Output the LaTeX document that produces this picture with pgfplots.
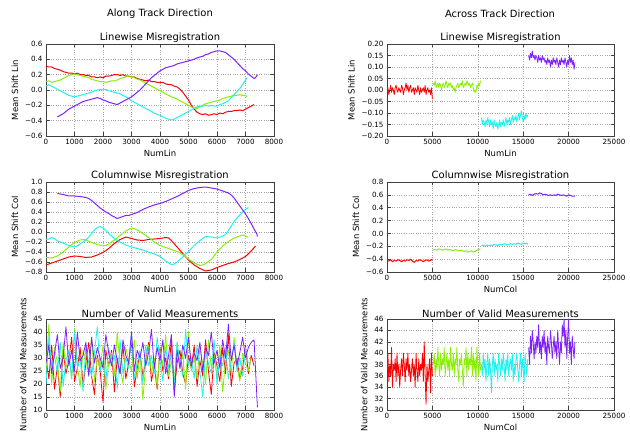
\documentclass[border=0pt]{standalone}
\usepackage{fontspec}
\setmainfont{DejaVu Sans}
\usepackage{pgfplots}
\pgfplotsset{compat=1.18}
\definecolor{cR}{HTML}{FF0000}
\definecolor{cG}{HTML}{88F000}
\definecolor{cC}{HTML}{20F0F0}
\definecolor{cP}{HTML}{8020FF}
\pgfplotsset{
  mpl/.style={
    scale only axis, width=228bp, anchor=south west,
    tick align=inside, major tick length=3.5bp,
    scaled ticks=false,
    /pgf/number format/assume math mode=true,
    grid=major, grid style={dotted, black!35, line width=0.5pt},
    axis line style={line width=0.6pt, black!75},
    tick style={line width=0.5pt, black!75},
    tick label style={font=\fontsize{7.2}{8}\selectfont},
    label style={font=\fontsize{8.5}{10}\selectfont},
    xlabel style={yshift=2bp},
    title style={font=\fontsize{10}{12}\selectfont, yshift=-8bp},
    every axis plot/.append style={line width=1pt, line join=round},
  },
  leftx/.style={xmin=0,xmax=8000,xtick={0,1000,...,8000},
    xticklabels={0,1000,2000,3000,4000,5000,6000,7000,8000}},
  rightx/.style={xmin=0,xmax=25000,xtick={0,5000,...,25000},
    xticklabels={0,5000,10000,15000,20000,25000}},
  noisy/.style={line width=0.8pt},
}
\begin{document}
\begin{tikzpicture}
\path[use as bounding box] (0,0) rectangle (630bp,432bp);
\node at (160bp,418bp) {\fontsize{10}{12}\selectfont Along Track Direction};
\node at (500bp,418bp) {\fontsize{10}{12}\selectfont Across Track Direction};

% ---------- Top left ----------
\begin{axis}[mpl, leftx, at={(46bp,296bp)}, height=92bp,
  title={Linewise Misregistration}, xlabel={NumLin}, ylabel={Mean Shift Lin},
  ymin=-0.6, ymax=0.6, ytick={-0.6,-0.4,-0.2,0,0.2,0.4,0.6},
  yticklabels={−0.6,−0.4,−0.2,0.0,0.2,0.4,0.6}]
\addplot[cR] coordinates {(0,0.31)(100,0.30)(200,0.30)(300,0.28)(400,0.27)(500,0.26)(600,0.24)(700,0.23)(800,0.22)(900,0.22)(1000,0.21)(1100,0.22)(1200,0.20)(1300,0.20)(1400,0.19)(1500,0.19)(1600,0.17)(1700,0.17)(1800,0.16)(1900,0.17)(2000,0.16)(2100,0.18)(2200,0.18)(2300,0.19)(2400,0.20)(2500,0.20)(2600,0.19)(2700,0.20)(2800,0.18)(2900,0.18)(3000,0.17)(3100,0.17)(3200,0.15)(3300,0.14)(3400,0.13)(3500,0.12)(3600,0.13)(3700,0.11)(3800,0.11)(3900,0.10)(4000,0.10)(4100,0.10)(4200,0.08)(4300,0.07)(4400,0.07)(4500,0.05)(4600,0.04)(4700,0.01)(4800,-0.03)(4900,-0.08)(5000,-0.13)(5100,-0.20)(5200,-0.25)(5300,-0.29)(5400,-0.31)(5500,-0.32)(5600,-0.31)(5700,-0.33)(5800,-0.32)(5900,-0.31)(6000,-0.32)(6100,-0.30)(6200,-0.31)(6300,-0.29)(6400,-0.28)(6500,-0.28)(6600,-0.27)(6700,-0.27)(6800,-0.26)(6900,-0.27)(7000,-0.25)(7100,-0.23)(7200,-0.21)(7300,-0.19)};
\addplot[cG] coordinates {(0,0.11)(100,0.12)(200,0.10)(300,0.11)(400,0.12)(500,0.13)(600,0.15)(700,0.17)(800,0.19)(900,0.20)(1000,0.21)(1100,0.20)(1200,0.19)(1300,0.18)(1400,0.17)(1500,0.16)(1600,0.14)(1700,0.13)(1800,0.12)(1900,0.11)(2000,0.11)(2100,0.10)(2200,0.11)(2300,0.12)(2400,0.12)(2500,0.13)(2600,0.15)(2700,0.16)(2800,0.17)(2900,0.18)(3000,0.18)(3100,0.16)(3200,0.14)(3300,0.13)(3400,0.11)(3500,0.09)(3600,0.07)(3700,0.05)(3800,0.03)(3900,0.01)(4000,-0.01)(4100,-0.03)(4200,-0.05)(4300,-0.07)(4400,-0.09)(4500,-0.10)(4600,-0.12)(4700,-0.14)(4800,-0.16)(4900,-0.18)(5000,-0.20)(5100,-0.22)(5200,-0.24)(5300,-0.24)(5400,-0.22)(5500,-0.20)(5600,-0.18)(5700,-0.17)(5800,-0.16)(5900,-0.15)(6000,-0.14)(6100,-0.13)(6200,-0.11)(6300,-0.10)(6400,-0.09)(6500,-0.08)(6600,-0.07)(6700,-0.07)(6800,-0.06)(6900,-0.07)(7000,-0.07)(7050,-0.09)};
\addplot[cC] coordinates {(0,0.05)(100,0.07)(200,0.05)(300,0.03)(400,0.01)(500,-0.01)(600,-0.03)(700,-0.05)(800,-0.07)(900,-0.08)(1000,-0.09)(1100,-0.08)(1200,-0.07)(1300,-0.06)(1400,-0.05)(1500,-0.04)(1600,-0.03)(1700,-0.01)(1800,0.00)(1900,0.01)(2000,0.00)(2100,0.01)(2200,-0.01)(2300,-0.02)(2400,-0.03)(2500,-0.04)(2600,-0.05)(2700,-0.07)(2800,-0.09)(2900,-0.11)(3000,-0.14)(3100,-0.16)(3200,-0.18)(3300,-0.20)(3400,-0.22)(3500,-0.24)(3600,-0.26)(3700,-0.28)(3800,-0.30)(3900,-0.32)(4000,-0.33)(4100,-0.35)(4200,-0.37)(4300,-0.38)(4400,-0.39)(4500,-0.38)(4600,-0.36)(4700,-0.34)(4800,-0.32)(4900,-0.30)(5000,-0.28)(5100,-0.26)(5200,-0.24)(5300,-0.22)(5400,-0.21)(5500,-0.21)(5600,-0.20)(5700,-0.21)(5800,-0.20)(5900,-0.21)(6000,-0.21)(6100,-0.19)(6200,-0.18)(6300,-0.16)(6400,-0.14)(6500,-0.10)(6600,-0.06)(6700,-0.02)(6800,0.02)(6900,0.07)(7000,0.13)(7050,0.16)};
\addplot[cP] coordinates {(400,-0.35)(500,-0.33)(600,-0.31)(700,-0.28)(800,-0.25)(900,-0.23)(1000,-0.21)(1100,-0.19)(1200,-0.17)(1300,-0.15)(1400,-0.14)(1500,-0.13)(1600,-0.12)(1700,-0.11)(1800,-0.10)(1900,-0.11)(2000,-0.13)(2100,-0.14)(2200,-0.16)(2300,-0.17)(2400,-0.18)(2500,-0.19)(2600,-0.17)(2700,-0.15)(2800,-0.13)(2900,-0.11)(3000,-0.09)(3100,-0.06)(3200,-0.03)(3300,0.00)(3400,0.04)(3500,0.08)(3600,0.12)(3700,0.16)(3800,0.19)(3900,0.22)(4000,0.25)(4100,0.27)(4200,0.29)(4300,0.30)(4400,0.31)(4500,0.32)(4600,0.34)(4700,0.35)(4800,0.36)(4900,0.37)(5000,0.38)(5100,0.39)(5200,0.40)(5300,0.42)(5400,0.43)(5500,0.44)(5600,0.46)(5700,0.47)(5800,0.49)(5900,0.50)(6000,0.51)(6100,0.51)(6200,0.50)(6300,0.49)(6400,0.46)(6500,0.43)(6600,0.40)(6700,0.36)(6800,0.32)(6900,0.28)(7000,0.25)(7100,0.21)(7200,0.18)(7300,0.15)(7350,0.16)(7420,0.20)};
\end{axis}

% ---------- Top right ----------
\begin{axis}[mpl, rightx, at={(387bp,296bp)}, height=92bp, width=227bp,
  title={Linewise Misregistration}, xlabel={NumLin}, ylabel={Mean Shift Lin},
  ymin=-0.2, ymax=0.2, ytick={-0.2,-0.15,-0.1,-0.05,0,0.05,0.1,0.15,0.2},
  yticklabels={−0.20,−0.15,−0.10,−0.05,0.00,0.05,0.10,0.15,0.20}]
\addplot[cR,noisy] coordinates {(0,-0.01)(100,0.01)(200,-0.02)(300,0.00)(400,0.02)(500,-0.01)(600,0.01)(700,0.00)(800,-0.02)(900,0.01)(1000,0.02)(1100,0.00)(1200,-0.01)(1300,0.01)(1400,0.00)(1500,-0.01)(1600,0.02)(1700,0.01)(1800,-0.02)(1900,0.00)(2000,0.01)(2100,0.03)(2200,0.00)(2300,0.02)(2400,-0.01)(2500,0.01)(2600,0.02)(2700,-0.01)(2800,0.00)(2900,0.01)(3000,-0.02)(3100,0.01)(3200,0.00)(3300,-0.01)(3400,0.02)(3500,0.00)(3600,-0.02)(3700,0.01)(3800,-0.01)(3900,0.00)(4000,0.01)(4100,-0.01)(4200,0.02)(4300,-0.02)(4400,0.00)(4500,0.01)(4600,-0.01)(4700,0.00)(4800,-0.02)(4900,0.01)(5000,-0.04)};
\addplot[cG,noisy] coordinates {(5100,0.03)(5200,0.02)(5300,0.04)(5400,0.01)(5500,0.02)(5600,0.03)(5700,0.01)(5800,0.03)(5900,0.02)(6000,0.00)(6100,0.02)(6200,0.03)(6300,0.01)(6400,0.02)(6500,0.04)(6600,0.02)(6700,0.01)(6800,0.03)(6900,0.02)(7000,0.03)(7100,0.01)(7200,0.02)(7300,0.00)(7400,0.01)(7500,-0.01)(7600,0.01)(7700,0.02)(7800,0.03)(7900,0.01)(8000,0.02)(8100,0.03)(8200,0.02)(8300,0.04)(8400,0.01)(8500,0.02)(8600,0.03)(8700,0.02)(8800,0.04)(8900,0.03)(9000,0.02)(9100,0.03)(9200,0.01)(9300,0.02)(9400,0.03)(9500,0.01)(9600,-0.01)(9700,0.00)(9800,-0.01)(9900,0.02)(10000,0.01)(10100,0.03)(10200,0.02)(10300,0.04)};
\addplot[cC,noisy] coordinates {(10400,-0.12)(10500,-0.15)(10600,-0.13)(10700,-0.14)(10800,-0.16)(10900,-0.13)(11000,-0.15)(11100,-0.12)(11200,-0.14)(11300,-0.16)(11400,-0.13)(11500,-0.15)(11600,-0.14)(11700,-0.17)(11800,-0.13)(11900,-0.15)(12000,-0.16)(12100,-0.14)(12200,-0.17)(12300,-0.15)(12400,-0.13)(12500,-0.16)(12600,-0.14)(12700,-0.15)(12800,-0.13)(12900,-0.16)(13000,-0.14)(13100,-0.12)(13200,-0.15)(13300,-0.13)(13400,-0.14)(13500,-0.12)(13600,-0.15)(13700,-0.13)(13800,-0.11)(13900,-0.14)(14000,-0.12)(14100,-0.13)(14200,-0.11)(14300,-0.14)(14400,-0.12)(14500,-0.10)(14600,-0.13)(14700,-0.11)(14800,-0.09)(14900,-0.12)(15000,-0.14)(15100,-0.11)(15200,-0.13)(15300,-0.10)(15400,-0.12)(15500,-0.11)};
\addplot[cP,noisy] coordinates {(15600,0.15)(15700,0.13)(15800,0.16)(15900,0.14)(16000,0.17)(16100,0.14)(16200,0.15)(16300,0.13)(16400,0.15)(16500,0.14)(16600,0.12)(16700,0.15)(16800,0.13)(16900,0.14)(17000,0.12)(17100,0.15)(17200,0.13)(17300,0.14)(17400,0.12)(17500,0.13)(17600,0.11)(17700,0.14)(17800,0.12)(17900,0.13)(18000,0.10)(18100,0.13)(18200,0.11)(18300,0.14)(18400,0.12)(18500,0.13)(18600,0.11)(18700,0.14)(18800,0.12)(18900,0.10)(19000,0.13)(19100,0.11)(19200,0.14)(19300,0.12)(19400,0.13)(19500,0.11)(19600,0.14)(19700,0.12)(19800,0.10)(19900,0.13)(20000,0.11)(20100,0.15)(20200,0.12)(20300,0.14)(20400,0.11)(20500,0.13)(20600,0.09)(20700,0.12)};
\end{axis}

% ---------- Middle left ----------
\begin{axis}[mpl, leftx, at={(46bp,160bp)}, height=90bp,
  title={Columnwise Misregistration}, xlabel={NumLin}, ylabel={Mean Shift Col},
  ymin=-0.8, ymax=1.0, ytick={-0.8,-0.6,-0.4,-0.2,0,0.2,0.4,0.6,0.8,1.0},
  yticklabels={−0.8,−0.6,−0.4,−0.2,0.0,0.2,0.4,0.6,0.8,1.0}]
\addplot[cR] coordinates {(0,-0.66)(200,-0.62)(400,-0.58)(600,-0.54)(800,-0.50)(1000,-0.48)(1200,-0.49)(1400,-0.51)(1600,-0.50)(1800,-0.46)(2000,-0.41)(2200,-0.33)(2400,-0.23)(2600,-0.15)(2800,-0.10)(3000,-0.13)(3200,-0.16)(3400,-0.17)(3600,-0.15)(3800,-0.14)(4000,-0.13)(4200,-0.11)(4300,-0.12)(4400,-0.17)(4600,-0.30)(4800,-0.43)(5000,-0.56)(5200,-0.66)(5400,-0.73)(5600,-0.78)(5800,-0.76)(6000,-0.71)(6200,-0.67)(6400,-0.63)(6600,-0.60)(6800,-0.55)(7000,-0.49)(7200,-0.38)(7350,-0.28)};
\addplot[cG] coordinates {(0,-0.51)(200,-0.52)(400,-0.48)(600,-0.40)(800,-0.30)(1000,-0.21)(1200,-0.16)(1300,-0.15)(1400,-0.16)(1600,-0.21)(1800,-0.25)(2000,-0.28)(2100,-0.27)(2200,-0.24)(2400,-0.16)(2600,-0.07)(2800,0.02)(3000,0.08)(3100,0.07)(3200,0.04)(3400,-0.03)(3600,-0.11)(3800,-0.20)(4000,-0.27)(4200,-0.31)(4400,-0.35)(4600,-0.39)(4800,-0.45)(5000,-0.54)(5200,-0.62)(5400,-0.67)(5500,-0.66)(5600,-0.63)(5800,-0.55)(6000,-0.40)(6200,-0.28)(6400,-0.19)(6600,-0.12)(6800,-0.08)(6900,-0.06)(7000,-0.08)(7100,-0.11)};
\addplot[cC] coordinates {(0,-0.15)(100,-0.14)(200,-0.11)(300,-0.13)(400,-0.18)(600,-0.22)(800,-0.27)(1000,-0.30)(1100,-0.28)(1200,-0.24)(1300,-0.20)(1400,-0.16)(1500,-0.10)(1600,-0.03)(1700,0.04)(1800,0.09)(1900,0.11)(2000,0.08)(2100,0.03)(2200,-0.03)(2300,-0.08)(2400,-0.13)(2500,-0.17)(2600,-0.20)(2800,-0.26)(3000,-0.30)(3200,-0.33)(3400,-0.36)(3600,-0.40)(3800,-0.44)(4000,-0.49)(4200,-0.58)(4400,-0.65)(4500,-0.64)(4600,-0.60)(4800,-0.50)(5000,-0.39)(5200,-0.27)(5400,-0.17)(5600,-0.09)(5800,-0.10)(6000,-0.12)(6200,-0.08)(6300,-0.05)(6400,0.03)(6500,0.12)(6600,0.21)(6700,0.28)(6800,0.34)(6900,0.40)(7000,0.45)(7100,0.49)};
\addplot[cP] coordinates {(400,0.77)(600,0.75)(800,0.72)(1000,0.72)(1200,0.71)(1400,0.69)(1500,0.67)(1600,0.63)(1700,0.58)(1800,0.53)(1900,0.48)(2000,0.44)(2100,0.40)(2200,0.37)(2300,0.33)(2400,0.30)(2500,0.27)(2600,0.29)(2700,0.31)(2800,0.33)(2900,0.33)(3000,0.35)(3200,0.39)(3400,0.45)(3600,0.50)(3800,0.54)(4000,0.57)(4200,0.61)(4400,0.66)(4600,0.71)(4800,0.77)(5000,0.83)(5200,0.87)(5400,0.89)(5600,0.90)(5800,0.88)(6000,0.86)(6200,0.82)(6400,0.78)(6500,0.74)(6600,0.68)(6700,0.60)(6800,0.52)(6900,0.44)(7000,0.36)(7100,0.27)(7200,0.17)(7300,0.06)(7400,-0.04)(7420,-0.09)};
\end{axis}

% ---------- Middle right ----------
\begin{axis}[mpl, rightx, at={(387bp,160bp)}, height=90bp, width=227bp,
  title={Columnwise Misregistration}, xlabel={NumCol}, ylabel={Mean Shift Col},
  ymin=-0.6, ymax=0.8, ytick={-0.6,-0.4,-0.2,0,0.2,0.4,0.6,0.8},
  yticklabels={−0.6,−0.4,−0.2,0.0,0.2,0.4,0.6,0.8}]
\addplot[cR] coordinates {(0,-0.42)(200,-0.43)(400,-0.41)(600,-0.44)(800,-0.42)(1000,-0.43)(1200,-0.41)(1400,-0.42)(1600,-0.44)(1800,-0.42)(2000,-0.43)(2200,-0.41)(2400,-0.42)(2600,-0.40)(2800,-0.43)(3000,-0.45)(3200,-0.42)(3400,-0.43)(3600,-0.41)(3800,-0.42)(4000,-0.44)(4200,-0.42)(4400,-0.41)(4600,-0.43)(4800,-0.42)(5000,-0.40)};
\addplot[cG] coordinates {(5100,-0.26)(5300,-0.25)(5500,-0.26)(5700,-0.24)(5900,-0.25)(6100,-0.26)(6300,-0.25)(6500,-0.24)(6700,-0.26)(6900,-0.25)(7100,-0.26)(7300,-0.27)(7500,-0.25)(7700,-0.26)(7900,-0.27)(8100,-0.26)(8300,-0.27)(8500,-0.28)(8700,-0.27)(8900,-0.29)(9100,-0.28)(9300,-0.27)(9500,-0.29)(9700,-0.28)(9900,-0.26)(10100,-0.25)(10300,-0.24)};
\addplot[cC] coordinates {(10400,-0.19)(10600,-0.18)(10800,-0.20)(11000,-0.18)(11200,-0.19)(11400,-0.18)(11600,-0.19)(11800,-0.17)(12000,-0.18)(12200,-0.19)(12400,-0.17)(12600,-0.18)(12800,-0.17)(13000,-0.16)(13200,-0.18)(13400,-0.17)(13600,-0.16)(13800,-0.17)(14000,-0.16)(14200,-0.17)(14400,-0.15)(14600,-0.16)(14800,-0.17)(15000,-0.15)(15200,-0.16)(15400,-0.15)(15500,-0.17)};
\addplot[cP] coordinates {(15600,0.60)(15800,0.61)(16000,0.59)(16200,0.61)(16400,0.62)(16600,0.61)(16800,0.63)(17000,0.62)(17200,0.60)(17400,0.61)(17600,0.60)(17800,0.59)(18000,0.60)(18200,0.59)(18400,0.60)(18600,0.59)(18800,0.61)(19000,0.60)(19200,0.59)(19400,0.60)(19600,0.59)(19800,0.58)(20000,0.60)(20200,0.59)(20400,0.58)(20600,0.58)(20700,0.58)};
\end{axis}

% ---------- Bottom left ----------
\begin{axis}[mpl, leftx, at={(46bp,22bp)}, height=91bp,
  title={Number of Valid Measurements}, xlabel={NumLin}, ylabel={Number of Valid Measurements},
  ymin=10, ymax=45, ytick={10,15,...,45}]
\addplot[cR,noisy] coordinates {(0,30)(100,22)(200,35)(300,18)(400,27)(500,15)(600,33)(700,24)(800,29)(900,38)(1000,21)(1100,26)(1200,34)(1300,19)(1400,28)(1500,36)(1600,23)(1700,16)(1800,31)(1900,25)(2000,13)(2100,33)(2200,27)(2300,33)(2400,17)(2500,30)(2600,24)(2700,35)(2800,22)(2900,28)(3000,37)(3100,19)(3200,26)(3300,32)(3400,23)(3500,29)(3600,36)(3700,21)(3800,27)(3900,18)(4000,34)(4100,25)(4200,30)(4300,22)(4400,38)(4500,17)(4600,28)(4700,33)(4800,24)(4900,20)(5000,31)(5100,26)(5200,35)(5300,19)(5400,29)(5500,23)(5600,37)(5700,25)(5800,16)(5900,32)(6000,27)(6100,21)(6200,34)(6300,24)(6400,39)(6500,19)(6600,28)(6700,30)(6800,22)(6900,26)(7000,35)(7100,24)(7200,31)(7300,27)};
\addplot[cG,noisy] coordinates {(0,25)(100,43)(200,20)(300,34)(400,28)(500,17)(600,36)(700,26)(800,31)(900,22)(1000,41)(1100,27)(1200,19)(1300,33)(1400,29)(1500,24)(1600,38)(1700,21)(1800,30)(1900,26)(2000,35)(2100,18)(2200,28)(2300,32)(2400,23)(2500,40)(2600,27)(2700,20)(2800,34)(2900,29)(3000,25)(3100,37)(3200,22)(3300,31)(3400,14)(3500,28)(3600,35)(3700,24)(3800,30)(3900,19)(4000,33)(4100,27)(4200,39)(4300,23)(4400,29)(4500,21)(4600,36)(4700,26)(4800,32)(4900,18)(5000,40)(5100,25)(5200,30)(5300,22)(5400,34)(5500,28)(5600,20)(5700,37)(5800,26)(5900,31)(6000,23)(6100,35)(6200,17)(6300,29)(6400,33)(6500,24)(6600,38)(6700,27)(6800,21)(6900,32)(7000,28)(7100,25)(7200,30)};
\addplot[cC,noisy] coordinates {(0,20)(100,38)(200,27)(300,31)(400,24)(500,36)(600,19)(700,29)(800,33)(900,22)(1000,40)(1100,26)(1200,30)(1300,17)(1400,35)(1500,28)(1600,23)(1700,32)(1800,42)(1900,25)(2000,29)(2100,21)(2200,34)(2300,27)(2400,31)(2500,18)(2600,37)(2700,24)(2800,30)(2900,26)(3000,39)(3100,22)(3200,28)(3300,33)(3400,20)(3500,35)(3600,27)(3700,31)(3800,24)(3900,38)(4000,29)(4100,21)(4200,34)(4300,26)(4400,32)(4500,19)(4600,36)(4700,28)(4800,23)(4900,41)(5000,27)(5100,30)(5200,22)(5300,35)(5400,25)(5500,15)(5600,33)(5700,28)(5800,24)(5900,37)(6000,20)(6100,31)(6200,27)(6300,34)(6400,22)(6500,29)(6600,36)(6700,25)(6800,30)(6900,23)(7000,34)(7100,28)};
\addplot[cP,noisy] coordinates {(0,28)(100,35)(200,24)(300,32)(400,39)(500,26)(600,30)(700,42)(800,27)(900,33)(1000,25)(1100,40)(1200,29)(1300,31)(1400,36)(1500,23)(1600,38)(1700,28)(1800,34)(1900,30)(2000,26)(2100,39)(2200,32)(2300,27)(2400,35)(2500,29)(2600,24)(2700,37)(2800,31)(2900,28)(3000,40)(3100,25)(3200,33)(3300,30)(3400,36)(3500,27)(3600,32)(3700,41)(3800,26)(3900,34)(4000,29)(4100,37)(4200,24)(4300,31)(4400,39)(4500,15)(4600,33)(4700,26)(4800,35)(4900,30)(5000,38)(5100,27)(5200,32)(5300,29)(5400,36)(5500,25)(5600,34)(5700,31)(5800,40)(5900,28)(6000,33)(6100,26)(6200,37)(6300,30)(6400,43)(6500,29)(6600,35)(6700,27)(6800,32)(6900,38)(7000,30)(7100,34)(7200,36)(7300,37)(7400,15)(7420,11)};
\end{axis}

% ---------- Bottom right ----------
\begin{axis}[mpl, rightx, at={(387bp,22bp)}, height=91bp, width=227bp,
  title={Number of Valid Measurements}, xlabel={NumCol}, ylabel={Number of Valid Measurements},
  ymin=30, ymax=46, ytick={30,32,...,46}]
\addplot[cR,noisy] coordinates {(0,37)(100,40)(200,35)(300,38)(400,36)(500,41)(600,34)(700,38)(800,37)(900,39)(1000,35)(1100,40)(1200,36)(1300,38)(1400,34)(1500,37)(1600,39)(1700,36)(1800,40)(1900,38)(2000,35)(2100,39)(2200,37)(2300,40)(2400,36)(2500,38)(2600,35)(2700,37)(2800,39)(2900,36)(3000,38)(3100,34)(3200,40)(3300,37)(3400,35)(3500,39)(3600,36)(3700,38)(3800,37)(3900,40)(4000,35)(4100,42)(4200,36)(4300,31)(4400,38)(4500,35)(4600,37)(4700,39)(4800,33)(4900,40)(5000,36)};
\addplot[cG,noisy] coordinates {(5100,38)(5200,40)(5300,36)(5400,39)(5500,37)(5600,41)(5700,38)(5800,36)(5900,40)(6000,37)(6100,39)(6200,38)(6300,41)(6400,36)(6500,38)(6600,40)(6700,37)(6800,39)(6900,36)(7000,41)(7100,38)(7200,37)(7300,40)(7400,36)(7500,39)(7600,38)(7700,41)(7800,37)(7900,35)(8000,39)(8100,38)(8200,40)(8300,37)(8400,34)(8500,39)(8600,38)(8700,41)(8800,36)(8900,40)(9000,37)(9100,39)(9200,38)(9300,41)(9400,36)(9500,40)(9600,37)(9700,39)(9800,35)(9900,41)(10000,38)(10100,36)(10200,40)(10300,37)};
\addplot[cC,noisy] coordinates {(10400,38)(10500,36)(10600,40)(10700,37)(10800,39)(10900,35)(11000,38)(11100,40)(11200,36)(11300,39)(11400,37)(11500,33)(11600,38)(11700,40)(11800,36)(11900,39)(12000,37)(12100,38)(12200,35)(12300,40)(12400,38)(12500,36)(12600,39)(12700,37)(12800,40)(12900,38)(13000,35)(13100,39)(13200,37)(13300,40)(13400,36)(13500,38)(13600,39)(13700,37)(13800,40)(13900,35)(14000,38)(14100,36)(14200,39)(14300,40)(14400,37)(14500,35)(14600,38)(14700,40)(14800,36)(14900,39)(15000,37)(15100,35)(15200,40)(15300,38)(15400,36)(15500,39)};
\addplot[cP,noisy] coordinates {(15600,41)(15700,38)(15800,43)(15900,40)(16000,44)(16100,42)(16200,39)(16300,42)(16400,40)(16500,43)(16600,41)(16700,45)(16800,40)(16900,42)(17000,39)(17100,43)(17200,41)(17300,44)(17400,40)(17500,42)(17600,38)(17700,43)(17800,41)(17900,40)(18000,44)(18100,42)(18200,39)(18300,41)(18400,43)(18500,40)(18600,42)(18700,39)(18800,44)(18900,41)(19000,38)(19100,42)(19200,40)(19300,45)(19400,43)(19500,46)(19600,41)(19700,44)(19800,39)(19900,43)(20000,46)(20100,40)(20200,42)(20300,38)(20400,43)(20500,41)(20600,39)(20700,42)};
\end{axis}
\end{tikzpicture}
\end{document}
